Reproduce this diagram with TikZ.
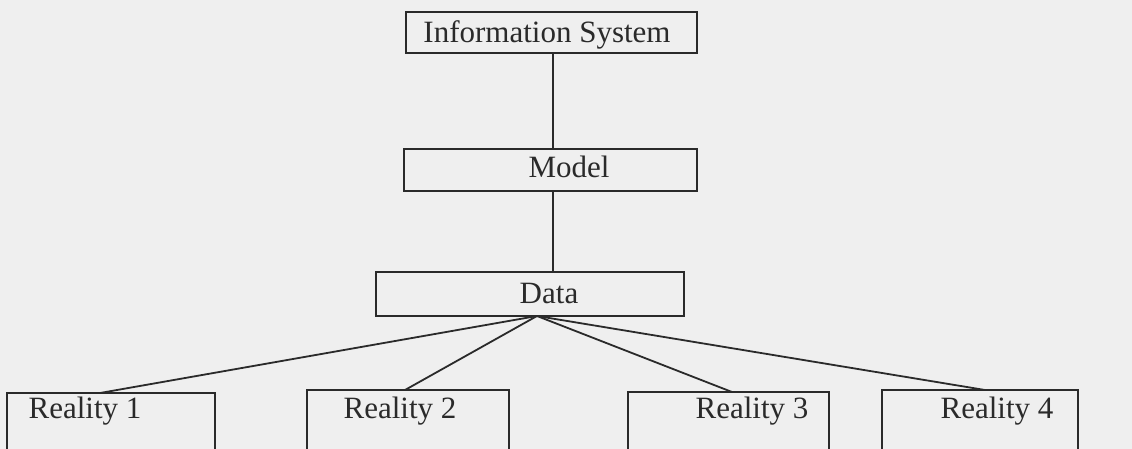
\documentclass[tikz,border=0pt]{standalone}
\usepackage{fontspec}
\setmainfont{Liberation Serif}
\definecolor{ink}{HTML}{2A2A2A}
\definecolor{paper}{HTML}{EFEFEF}
\begin{document}
\begin{tikzpicture}[x=1pt,y=-1pt,
  box/.style={draw=ink, line width=1.8pt, rectangle, inner sep=0pt},
  lbl/.style={anchor=base, inner sep=0pt, text=ink, font=\fontsize{31}{31}\selectfont},
  conn/.style={draw=ink, line width=1.8pt}]
\useasboundingbox (0,0) rectangle (1132,449);
\fill[paper] (0,0) rectangle (1132,449);
\clip (0,0) rectangle (1132,449);
% boxes
\node[box, minimum width=291pt, minimum height=41pt] (is) at (551.5,32.5) {};
\node[box, minimum width=293pt, minimum height=42pt] (model) at (550.5,170) {};
\node[box, minimum width=308pt, minimum height=44pt] (data) at (530,294) {};
\node[box, minimum width=208pt, minimum height=74pt] (r1) at (111,430) {};
\node[box, minimum width=202pt, minimum height=74pt] (r2) at (408,427) {};
\node[box, minimum width=201pt, minimum height=74pt] (r3) at (728.5,429) {};
\node[box, minimum width=196pt, minimum height=74pt] (r4) at (980,427) {};
% labels
\node[lbl] (tis) at (547,43) {Information System};
\node[lbl] (tmodel) at (569,178) {Model};
\node[lbl] (tdata) at (549,303) {Data};
\node[lbl] (tr1) at (85,418) {Reality 1};
\node[lbl] (tr2) at (400,418) {Reality 2};
\node[lbl] (tr3) at (752,418) {Reality 3};
\node[lbl] (tr4) at (997,418) {Reality 4};
% connector end points on the reality boxes
\coordinate (d0) at (537,316);
\coordinate (e1) at (100,393);
\coordinate (e2) at (405,390);
\coordinate (e3) at (732,392);
\coordinate (e4) at (985,390);
\coordinate (v1) at (553,53);
\coordinate (v2) at (553,149);
\coordinate (v3) at (553,191);
\coordinate (v4) at (553,272);
% connectors
\draw[conn] (v1) -- (v2);
\draw[conn] (v3) -- (v4);
\draw[conn] (d0) -- (e1);
\draw[conn] (d0) -- (e2);
\draw[conn] (d0) -- (e3);
\draw[conn] (d0) -- (e4);
\end{tikzpicture}
\end{document}
